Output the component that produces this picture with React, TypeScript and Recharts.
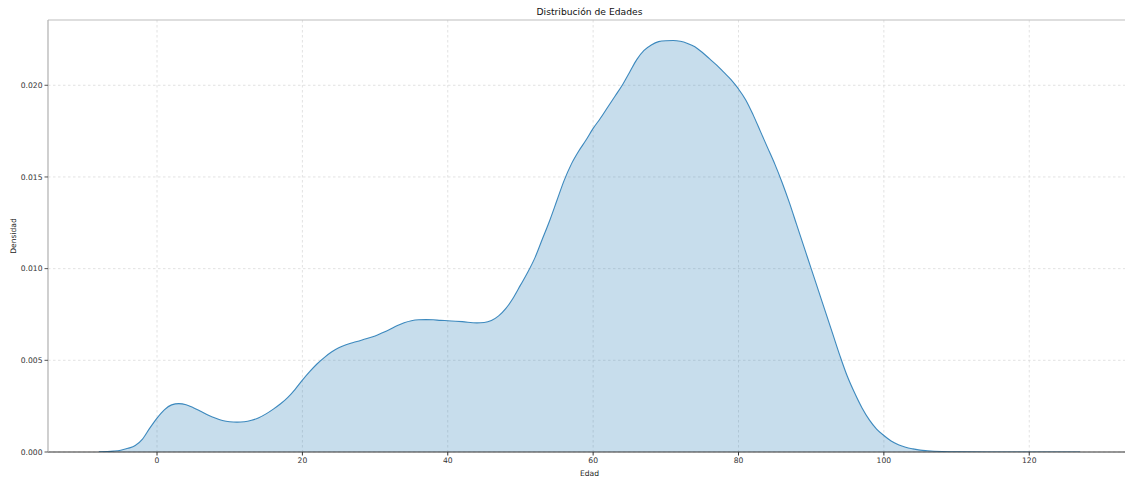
import React from 'react';
import { AreaChart, Area, XAxis, YAxis, CartesianGrid, ReferenceLine } from 'recharts';

const ages: number[] = [
  -8, -6, -5, -4, -3, -2, -1, 0, 1, 2, 3, 4, 5, 6, 7, 8, 9, 10, 11, 12, 13, 14, 15, 16, 17, 18, 19,
  20, 21, 22, 23, 24, 25, 26, 27, 28, 29, 30, 31, 32, 33, 34, 35, 36, 37, 38, 39, 40, 42, 44, 45,
  46, 47, 48, 49, 50, 51, 52, 53, 54, 55, 56, 57, 58, 59, 60, 61, 62, 63, 64, 65, 66, 67, 68, 69,
  70, 71, 72, 73, 74, 75, 76, 77, 78, 79, 80, 81, 82, 83, 84, 85, 86, 87, 88, 89, 90, 91, 92, 93,
  94, 95, 96, 97, 98, 99, 100, 101, 102, 103, 104, 105, 106, 108, 110, 115, 120, 127,
];

const densities: number[] = [
  0.00001, 0.00005, 0.0001, 0.0002, 0.00035, 0.0007, 0.0013, 0.00185, 0.0023, 0.00257, 0.00264,
  0.00258, 0.00242, 0.00222, 0.00202, 0.00185, 0.00172, 0.00165, 0.00163, 0.00165, 0.00173,
  0.00187, 0.00208, 0.00234, 0.00263, 0.00298, 0.00342,
  0.00392, 0.00438, 0.0048, 0.00515, 0.00545, 0.00568, 0.00585, 0.00597, 0.00608, 0.0062, 0.00633,
  0.0065, 0.00668, 0.00688, 0.00705, 0.00716, 0.00721, 0.00722, 0.00721, 0.00718, 0.00716,
  0.00711, 0.00704, 0.00706,
  0.00717, 0.00742, 0.00783, 0.0084, 0.0091, 0.0098, 0.0106, 0.0116, 0.0126, 0.0137, 0.0148, 0.0157,
  0.0164, 0.017, 0.01765, 0.0182, 0.0188, 0.0194, 0.02, 0.0207, 0.0214, 0.0219, 0.0222, 0.02238,
  0.02243, 0.02244, 0.0224, 0.02228, 0.0221, 0.0218, 0.02145, 0.0211, 0.0207, 0.0203, 0.0198,
  0.0192, 0.0184, 0.0175, 0.0166, 0.0157, 0.0147, 0.0136, 0.0124, 0.0112, 0.01, 0.0088, 0.0076,
  0.0064,
  0.0052, 0.0041, 0.0032, 0.0024, 0.00175, 0.00125, 0.0009, 0.0006, 0.0004, 0.00026, 0.00017,
  0.0001, 0.00007, 0.00003, 0.00001, 0.000003, 0.000002, 0.000001,
];

const xTicks: number[] = [0, 20, 40, 60, 80, 100, 120];
const yTicks: number[] = [0, 0.005, 0.01, 0.015, 0.02];

const title = 'Distribución de Edades';
const xLabel = 'Edad';
const yLabel = 'Densidad';

const X_DOMAIN: [number, number] = [-15, 134];
const Y_MAX = 0.02356;

const data = ages.map((a, i) => ({ age: a, d: densities[i] }));

const FONT = '"DejaVu Sans", sans-serif';

const YLabel = (props: any) => {
  const vb = props.viewBox || { x: 0, y: 20, width: 48, height: 432 };
  const cx = 13;
  const cy = vb.y + vb.height / 2;
  return (
    <text
      x={cx}
      y={cy}
      transform={`rotate(-90, ${cx}, ${cy})`}
      textAnchor="middle"
      dominantBaseline="central"
      fontSize={7.6}
      fontFamily={FONT}
      fill="#222"
    >
      {yLabel}
    </text>
  );
};

export default function App() {
  return (
    <div
      style={{
        position: 'absolute',
        left: 0,
        top: 0,
        width: 1125,
        height: 478,
        overflow: 'hidden',
        background: '#ffffff',
      }}
    >
      <div
        style={{
          position: 'absolute',
          left: 289.5,
          width: 600,
          top: 6,
          textAlign: 'center',
          fontFamily: FONT,
          fontSize: 9.2,
          color: '#111',
          lineHeight: '12px',
        }}
      >
        {title}
      </div>
      <AreaChart
        width={1131}
        height={478}
        data={data}
        margin={{ top: 20, right: 0, bottom: 0, left: 0 }}
      >
        <CartesianGrid
          stroke="#dadada"
          strokeDasharray="2.5 2.5"
          strokeWidth={0.8}
          verticalValues={xTicks}
          horizontalValues={yTicks}
        />
        <XAxis
          dataKey="age"
          type="number"
          domain={X_DOMAIN}
          allowDataOverflow
          ticks={xTicks}
          height={26}
          tickSize={3.5}
          tickMargin={2}
          axisLine={{ stroke: '#333', strokeWidth: 1.2 }}
          tickLine={{ stroke: '#333' }}
          tick={{ fontSize: 7.6, fontFamily: FONT, fill: '#333' }}
          label={{
            value: xLabel,
            position: 'insideBottom',
            offset: 2.5,
            fontSize: 7.6,
            fontFamily: FONT,
            fill: '#222',
          }}
        />
        <YAxis
          type="number"
          domain={[0, Y_MAX]}
          allowDataOverflow
          ticks={yTicks}
          width={48}
          tickSize={3.5}
          tickMargin={2}
          tickFormatter={(v: number) => v.toFixed(3)}
          axisLine={{ stroke: '#b0b0b0', strokeWidth: 1.2 }}
          tickLine={{ stroke: '#555' }}
          tick={{ fontSize: 7.6, fontFamily: FONT, fill: '#333' }}
          label={<YLabel />}
        />
        <ReferenceLine y={Y_MAX} stroke="#bdbdbd" strokeWidth={1.2} ifOverflow="extendDomain" />
        <Area
          type="monotone"
          dataKey="d"
          stroke="#1f77b4"
          strokeWidth={1.1}
          strokeOpacity={0.85}
          fill="#1f77b4"
          fillOpacity={0.25}
          isAnimationActive={false}
          dot={false}
          activeDot={false}
        />
      </AreaChart>
    </div>
  );
}
